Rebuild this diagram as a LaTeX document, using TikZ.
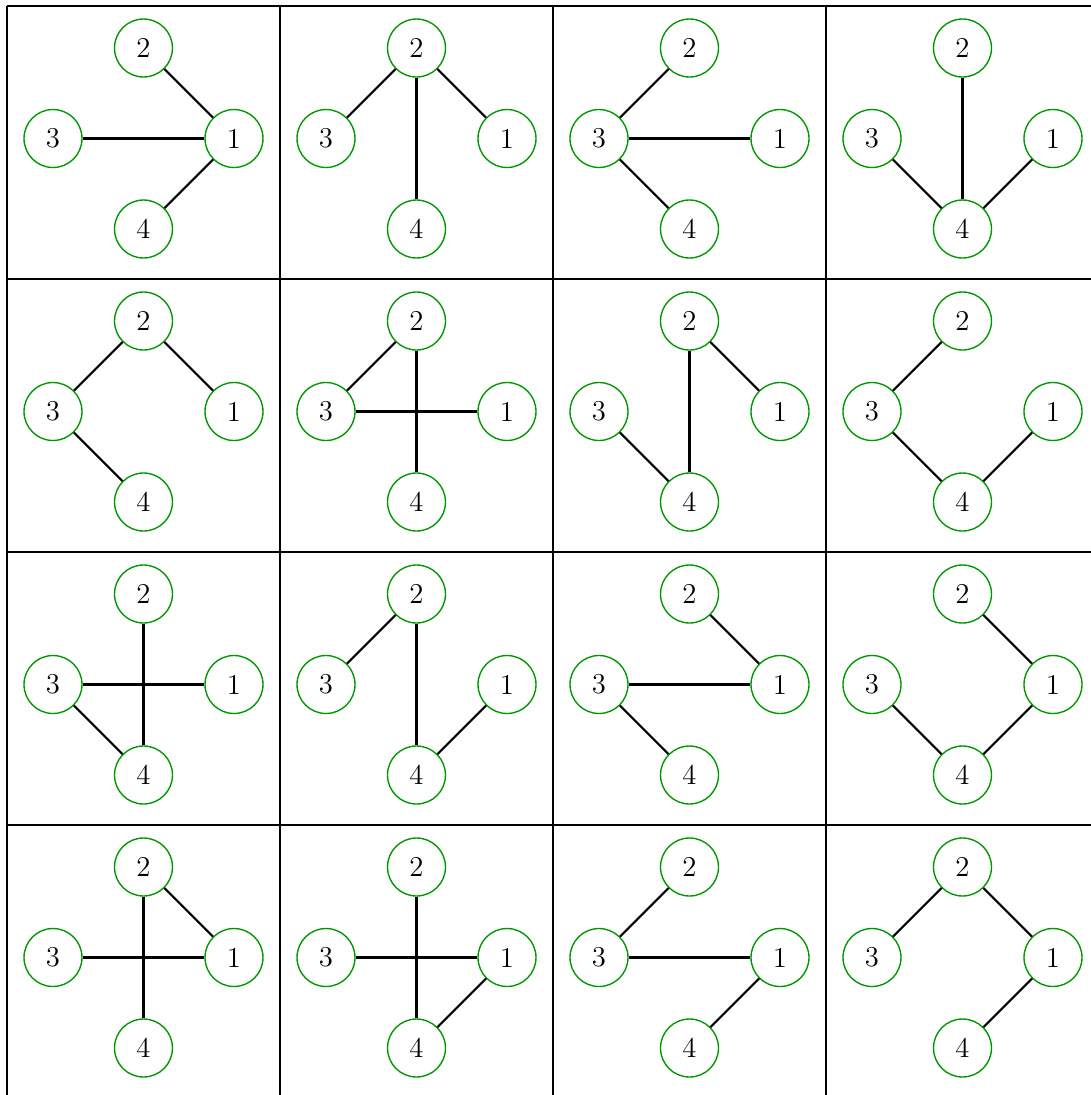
\documentclass[tikz,border=0pt]{standalone}
\usepackage{tikz}
\definecolor{vgreen}{RGB}{0,150,0}
\tikzstyle{vtx} = [circle, draw=vgreen, line width=0.55pt, minimum size=23.2pt, inner sep=0pt, font=\fontsize{11.5}{13}\selectfont]
\tikzstyle{edge} = [line width=0.85pt, black]
\tikzstyle{rule} = [line width=0.9pt, black]

\begin{document}
\begin{tikzpicture}[x=0.4pt, y=-0.4pt]
    \useasboundingbox (-7,-5.7) rectangle (1084,1089.3);

    % Grid
    \foreach \k in {0,273,546,819} {
        \draw [rule] (\k,0) -- (\k,1089.3);
        \draw [rule] (0,\k) -- (1084,\k);
    }

    % Trees, one per cell
    \foreach \r/\c/\edges in {
        0/0/{2/1,3/1,4/1}, 0/1/{2/3,2/4,2/1}, 0/2/{3/2,3/1,3/4}, 0/3/{4/3,4/2,4/1},
        1/0/{3/2,2/1,3/4}, 1/1/{3/2,3/1,2/4}, 1/2/{3/4,4/2,2/1}, 1/3/{3/2,3/4,4/1},
        2/0/{2/4,3/1,3/4}, 2/1/{3/2,2/4,4/1}, 2/2/{2/1,3/1,3/4}, 2/3/{2/1,3/4,4/1},
        3/0/{2/1,2/4,3/1}, 3/1/{2/4,3/1,4/1}, 3/2/{3/2,3/1,4/1}, 3/3/{3/2,2/1,4/1}} {
        \begin{scope}[shift={(\c*273,\r*273)}]
            \node (v\r\c1) [vtx] at (227,132.8) {1};
            \node (v\r\c2) [vtx] at (136.5,42.3) {2};
            \node (v\r\c3) [vtx] at (46,132.8) {3};
            \node (v\r\c4) [vtx] at (136.5,223.3) {4};
            \foreach \a/\b in \edges
                \draw [edge] (v\r\c\a) -- (v\r\c\b);
        \end{scope}
    }
\end{tikzpicture}
\end{document}
